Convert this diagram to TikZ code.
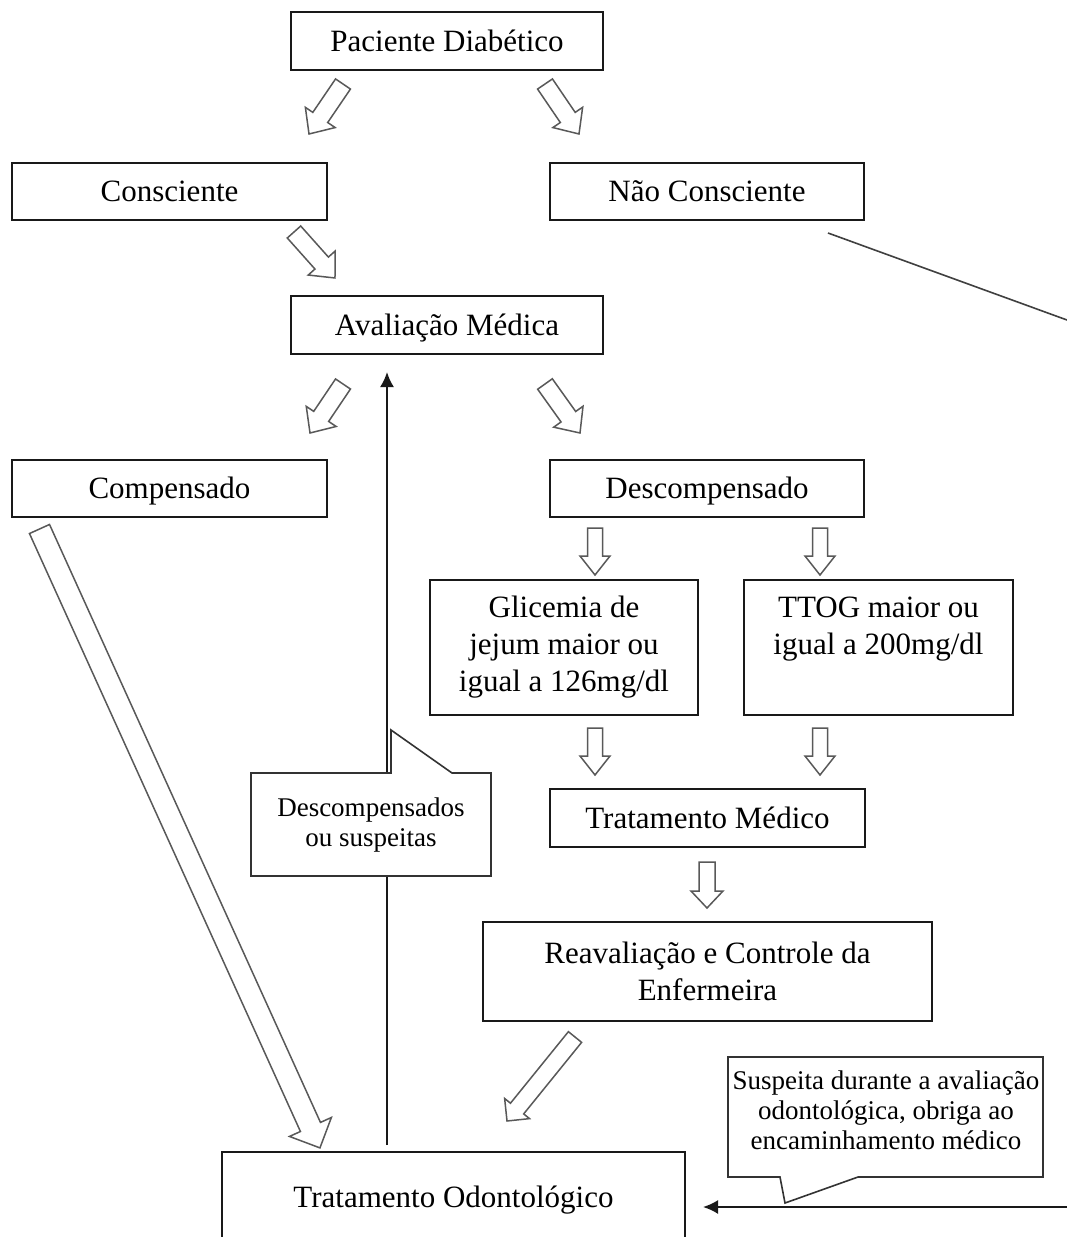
\documentclass[tikz,border=0pt]{standalone}
\usepackage{fontspec}
\setmainfont{Liberation Serif}
\usetikzlibrary{arrows.meta,calc}
\tikzset{
  box/.style={draw=black!90, line width=2pt, fill=white, inner sep=0pt, align=center,
    font=\fontsize{31}{37}\selectfont},
  oneline/.style={text height=27pt, text depth=6.5pt},
  barrowstyle/.style={draw=black!65, line width=1.5pt, fill=white, line join=miter},
  callout/.style={draw=black!80, line width=1.6pt, fill=white, line join=miter},
  calltext/.style={align=center, inner sep=0pt, font=\fontsize{27}{30}\selectfont},
  link/.style={draw=black!90, line width=2pt},
  fine/.style={draw=black!75, line width=1.6pt},
  tip/.style={-{Latex[length=15pt,width=14pt]}}
}
\newcommand\barrow[5]{%
  \path let \p1=(#1), \p2=(#2) in \pgfextra{%
    \pgfmathsetmacro\tmpang{atan2((\y2)-(\y1),(\x2)-(\x1))}\global\let\barang\tmpang
    \pgfmathsetmacro\tmplen{veclen((\x2)-(\x1),(\y2)-(\y1))}\global\let\barlen\tmplen
    \xdef\barx{\x1}\xdef\bary{\y1}};
  \pgfmathsetmacro\barb{\barlen-#5}%
  \begin{scope}[shift={(\barx,\bary)}, rotate=\barang]
    \draw[barrowstyle] (0pt,-#3pt) -- (\barb pt,-#3pt) -- (\barb pt,-#4pt) -- (\barlen pt,0pt)
      -- (\barb pt,#4pt) -- (\barb pt,#3pt) -- (0pt,#3pt) -- cycle;
  \end{scope}}
\begin{document}
\begin{tikzpicture}[x=1pt,y=-1pt]
\clip (0,0) rectangle (1067,1237);
\fill[white] (0,0) rectangle (1067,1237);

% boxes
\node[box, oneline, minimum width=312, minimum height=58] (pac) at (447,41) {Paciente Diabético};
\node[box, oneline, minimum width=315, minimum height=57] (cons) at (169.5,191.5) {Consciente};
\node[box, oneline, minimum width=314, minimum height=57] (ncons) at (707,191.5) {Não Consciente};
\node[box, oneline, minimum width=312, minimum height=58] (aval) at (447,325) {Avaliação Médica};
\node[box, oneline, minimum width=315, minimum height=57] (comp) at (169.5,488.5) {Compensado};
\node[box, oneline, minimum width=314, minimum height=57] (desc) at (707,488.5) {Descompensado};
\node[box, minimum width=268, minimum height=135] (glic) at (564,647.5) {Glicemia de\\jejum maior ou\\igual a 126mg/dl};
\node[box, minimum width=269, minimum height=135] (ttog) at (878.5,647.5) {TTOG maior ou\\igual a 200mg/dl\\\phantom{lg}};
\node[box, oneline, minimum width=315, minimum height=58] (tm) at (707.5,818) {Tratamento Médico};
\node[box, minimum width=449, minimum height=99] (reav) at (707.5,971.5) {Reavaliação e Controle da\\Enfermeira};
\node[box, oneline, minimum width=463, minimum height=90] (odo) at (453.5,1197) {Tratamento Odontológico};

% block arrow end points
\coordinate (a1t) at (343,84);   \coordinate (a1h) at (309,134);
\coordinate (a2t) at (545,84);   \coordinate (a2h) at (579,134);
\coordinate (a3t) at (294,232);  \coordinate (a3h) at (335,278);
\coordinate (a4t) at (343,384);  \coordinate (a4h) at (310,433);
\coordinate (a5t) at (545,384);  \coordinate (a5h) at (580,433);
\coordinate (a6t) at (595,528);  \coordinate (a6h) at (595,575);
\coordinate (a7t) at (820,528);  \coordinate (a7h) at (820,575);
\coordinate (a8t) at (595,728);  \coordinate (a8h) at (595,775);
\coordinate (a9t) at (820,728);  \coordinate (a9h) at (820,775);
\coordinate (a10t) at (707,862); \coordinate (a10h) at (707,908);
\coordinate (a11t) at (575,1037);\coordinate (a11h) at (507,1121);
\coordinate (a12t) at (39.5,529);\coordinate (a12h) at (320,1148);

\barrow{a1t}{a1h}{9}{18}{20}
\barrow{a2t}{a2h}{9}{18}{20}
\barrow{a3t}{a3h}{9}{18}{20}
\barrow{a4t}{a4h}{9}{18}{20}
\barrow{a5t}{a5h}{9}{18}{20}
\barrow{a6t}{a6h}{7.5}{15}{19}
\barrow{a7t}{a7h}{7.5}{15}{19}
\barrow{a8t}{a8h}{7.5}{15}{19}
\barrow{a9t}{a9h}{7.5}{15}{19}
\barrow{a10t}{a10h}{8}{16}{17}
\barrow{a11t}{a11h}{8.5}{16}{16}
\barrow{a12t}{a12h}{11}{23}{23}

% plain connectors
\coordinate (upS) at (387,1145);
\coordinate (upE) at (387,372);
\draw[link, tip] (upS) -- (upE);

\coordinate (hrS) at (1067,1207);
\coordinate (hrE) at (703,1207);
\draw[link, tip] (hrS) -- (hrE);

\coordinate (dgS) at (828,233);
\coordinate (dgE) at (1067,320);
\draw[fine] (dgS) -- (dgE);

% callouts
\draw[callout] (251,773) -- (391,773) -- (391,730) -- (452,773) -- (491,773)
  -- (491,876) -- (251,876) -- cycle;
\node[calltext] (c1) at (371,825) {Descompensados\\ou suspeitas};

\draw[callout] (728,1057) -- (1043,1057) -- (1043,1177) -- (858,1177) -- (785,1203)
  -- (780,1177) -- (728,1177) -- cycle;
\node[calltext] (c2) at (886,1110) {Suspeita durante a avaliação\\odontológica, obriga ao\\encaminhamento médico};
\end{tikzpicture}
\end{document}
